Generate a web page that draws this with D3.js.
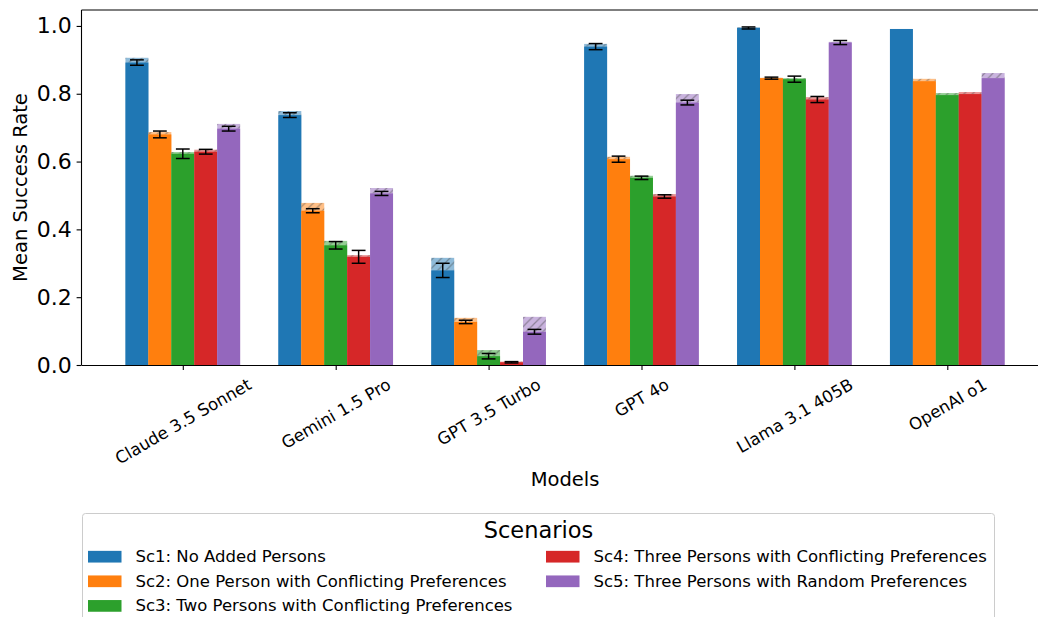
<!DOCTYPE html>
<html>
<head>
<meta charset="utf-8">
<script src="https://cdn.jsdelivr.net/npm/d3@7"></script>
<style>
  html, body { margin: 0; padding: 0; background: #fff; }
  svg { display: block; font-family: "DejaVu Sans", sans-serif; }
</style>
</head>
<body>
<svg id="chart" width="1038" height="617"></svg>
<script>
// ---------------- data ----------------
const models = ["Claude 3.5 Sonnet", "Gemini 1.5 Pro", "GPT 3.5 Turbo", "GPT 4o", "Llama 3.1 405B", "OpenAI o1"];
const scenarios = [
  "Sc1: No Added Persons",
  "Sc2: One Person with Conflicting Preferences",
  "Sc3: Two Persons with Conflicting Preferences",
  "Sc4: Three Persons with Conflicting Preferences",
  "Sc5: Three Persons with Random Preferences"
];
const colors = ["#1f77b4", "#ff7f0e", "#2ca02c", "#d62728", "#9467bd"];

// mean success rate (solid bars)
const sc1Mean = [0.892, 0.737, 0.279, 0.939, 0.994, 0.991];
const sc2Mean = [0.680, 0.455, 0.127, 0.607, 0.846, 0.837];
const sc3Mean = [0.623, 0.353, 0.026, 0.552, 0.843, 0.796];
const sc4Mean = [0.629, 0.319, 0.008, 0.497, 0.783, 0.799];
const sc5Mean = [0.697, 0.506, 0.098, 0.774, 0.951, 0.846];

// best run (hatched, lighter bars)
const sc1Max = [0.906, 0.749, 0.316, 0.947, 0.996, 0.991];
const sc2Max = [0.687, 0.478, 0.139, 0.614, 0.847, 0.844];
const sc3Max = [0.628, 0.366, 0.044, 0.558, 0.846, 0.802];
const sc4Max = [0.635, 0.324, 0.010, 0.504, 0.790, 0.805];
const sc5Max = [0.711, 0.522, 0.142, 0.799, 0.953, 0.861];

// error (half-length of error bars); null = no error bar
const sc1Err = [0.008, 0.007, 0.021, 0.009, 0.003, null];
const sc2Err = [0.010, 0.006, 0.005, 0.009, 0.003, null];
const sc3Err = [0.014, 0.011, 0.008, 0.005, 0.009, null];
const sc4Err = [0.007, 0.019, 0.002, 0.005, 0.009, null];
const sc5Err = [0.007, 0.006, 0.007, 0.007, 0.006, null];

const yTicks = [0.0, 0.2, 0.4, 0.6, 0.8, 1.0];

const means = [sc1Mean, sc2Mean, sc3Mean, sc4Mean, sc5Mean];
const maxes = [sc1Max, sc2Max, sc3Max, sc4Max, sc5Max];
const errs  = [sc1Err, sc2Err, sc3Err, sc4Err, sc5Err];

// ---------------- layout ----------------
const svg = d3.select("#chart");
const pLeft = 81.5, pTop = 10, pBottom = 365;
const barW = 0.15;
const nS = scenarios.length;
const xMin = -0.5 * nS * barW - 0.05 * (models.length - 1 + nS * barW);
const xMax = models.length - 1 - xMin;
const unit = 152.9;
const pRight = pLeft + (xMax - xMin) * unit;

const x = d3.scaleLinear().domain([xMin, xMax]).range([pLeft, pRight]);
const y = d3.scaleLinear().domain([0, 1.047]).range([pBottom, pTop]);

// hatch pattern
const defs = svg.append("defs");
const hs = 8.33;
const pat = defs.append("pattern")
  .attr("id", "hatch").attr("patternUnits", "userSpaceOnUse")
  .attr("width", hs).attr("height", hs);
pat.append("path")
  .attr("d", `M${-hs/2},${hs/2} L${hs/2},${-hs/2} M0,${hs} L${hs},0 M${hs/2},${hs*1.5} L${hs*1.5},${hs/2}`)
  .attr("stroke", "#444").attr("stroke-opacity", 0.45).attr("stroke-width", 1.2);

const plot = svg.append("g");

// bars
scenarios.forEach((s, j) => {
  const g = plot.append("g");
  models.forEach((m, i) => {
    const cx = i + (j - (nS - 1) / 2) * barW;
    const x0 = x(cx - barW / 2), x1 = x(cx + barW / 2);
    const mx = maxes[j][i], mn = means[j][i];
    // hatched max bar
    g.append("rect")
      .attr("x", x0).attr("width", x1 - x0)
      .attr("y", y(mx)).attr("height", y(0) - y(mx))
      .attr("fill", colors[j]).attr("fill-opacity", 0.5);
    g.append("rect")
      .attr("x", x0).attr("width", x1 - x0)
      .attr("y", y(mx)).attr("height", Math.max(0, y(mn) - y(mx)))
      .attr("fill", "url(#hatch)");
    // solid mean bar
    g.append("rect")
      .attr("x", x0).attr("width", x1 - x0)
      .attr("y", y(mn)).attr("height", y(0) - y(mn))
      .attr("fill", colors[j]);
  });
});

// error bars
scenarios.forEach((s, j) => {
  models.forEach((m, i) => {
    const e = errs[j][i];
    if (e === null) return;
    const cx = x(i + (j - (nS - 1) / 2) * barW);
    const mn = means[j][i];
    const cap = 6.9;
    const eg = plot.append("g").attr("stroke", "#000").attr("stroke-width", 1.5);
    eg.append("line").attr("x1", cx).attr("x2", cx).attr("y1", y(mn - e)).attr("y2", y(mn + e));
    eg.append("line").attr("x1", cx - cap).attr("x2", cx + cap).attr("y1", y(mn - e)).attr("y2", y(mn - e));
    eg.append("line").attr("x1", cx - cap).attr("x2", cx + cap).attr("y1", y(mn + e)).attr("y2", y(mn + e));
  });
});

// spines
svg.append("line").attr("x1", pLeft).attr("x2", pLeft).attr("y1", pTop).attr("y2", pBottom)
  .attr("stroke", "#000").attr("stroke-width", 1.1);
svg.append("line").attr("x1", pLeft).attr("x2", pRight).attr("y1", pTop).attr("y2", pTop)
  .attr("stroke", "#000").attr("stroke-width", 1.1);
svg.append("line").attr("x1", pRight).attr("x2", pRight).attr("y1", pTop).attr("y2", pBottom)
  .attr("stroke", "#000").attr("stroke-width", 1.1);

// y axis
const yAxis = svg.append("g").attr("transform", `translate(${pLeft},0)`)
  .call(d3.axisLeft(y).tickValues(yTicks).tickFormat(d3.format(".1f")).tickSize(4.9).tickPadding(4.9));
yAxis.select(".domain").remove();
yAxis.selectAll("line").attr("stroke-width", 1.1);
yAxis.selectAll("text").attr("font-size", 22).attr("font-family", "DejaVu Sans").attr("fill", "#000");

// x axis
const xAxis = svg.append("g").attr("transform", `translate(0,${pBottom})`)
  .call(d3.axisBottom(x).tickValues(d3.range(models.length)).tickFormat(i => models[i]).tickSize(4.9).tickPadding(4.9));
xAxis.select(".domain").attr("d", `M${pLeft},0.5H${pRight}`).attr("stroke-width", 1.1);
xAxis.selectAll("line").attr("stroke-width", 1.1);
const fsX = 16.67;
const ang = 30 * Math.PI / 180;
xAxis.selectAll(".tick text")
  .attr("font-size", fsX).attr("font-family", "DejaVu Sans").attr("fill", "#000")
  .attr("text-anchor", "middle").attr("dy", null).attr("dominant-baseline", "central")
  .each(function () {
    const w = this.getComputedTextLength();
    const h = fsX * 1.17;
    const H = w * Math.sin(ang) + h * Math.cos(ang);
    d3.select(this).attr("y", null)
      .attr("transform", `translate(0,${9.8 + H / 2}) rotate(-30)`);
  });

// axis labels
svg.append("text").attr("x", (pLeft + pRight) / 2).attr("y", 486)
  .attr("text-anchor", "middle").attr("font-size", 19.5).text("Models");
svg.append("text").attr("transform", `translate(27,${(pTop + pBottom) / 2}) rotate(-90)`)
  .attr("text-anchor", "middle").attr("font-size", 19.5).text("Mean Success Rate");

// legend
const lg = svg.append("g");
lg.append("rect").attr("x", 82.5).attr("y", 513.5).attr("width", 912).attr("height", 140)
  .attr("rx", 3).attr("fill", "#fff").attr("fill-opacity", 0.8)
  .attr("stroke", "#cccccc").attr("stroke-width", 1);
lg.append("text").attr("x", 538.5).attr("y", 538).attr("text-anchor", "middle")
  .attr("font-size", 22.5).text("Scenarios");
const colX = [88, 546];
const rowY = [556.7, 581.3, 605.9];
scenarios.forEach((s, j) => {
  const c = j < 3 ? 0 : 1;
  const r = j < 3 ? j : j - 3;
  lg.append("rect").attr("x", colX[c]).attr("y", rowY[r] - 5.85).attr("width", 33.5).attr("height", 11.7)
    .attr("fill", colors[j]);
  lg.append("text").attr("x", colX[c] + 47.5).attr("y", rowY[r]).attr("dominant-baseline", "central")
    .attr("font-size", 16.5).text(s);
});
</script>
</body>
</html>
